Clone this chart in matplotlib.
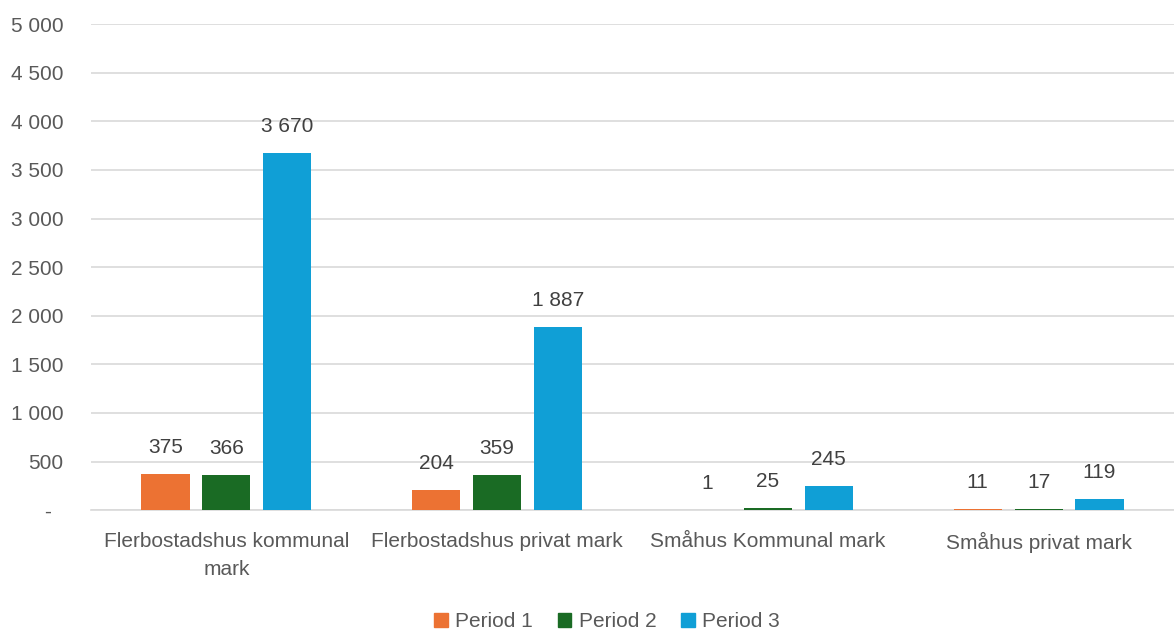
import matplotlib.pyplot as plt
import numpy as np
from matplotlib.patches import Patch

plt.rcParams["font.family"] = ["Liberation Sans", "DejaVu Sans"]

categories = ["Flerbostadshus kommunal\nmark", "Flerbostadshus privat mark",
              "Småhus Kommunal mark", "Småhus privat mark"]
series = ["Period 1", "Period 2", "Period 3"]
period1 = [375, 204, 1, 11]
period2 = [366, 359, 25, 17]
period3 = [3670, 1887, 245, 119]
colors = ["#EC7233", "#1A6B24", "#109FD6"]
yticks = list(range(0, 5001, 500))


def fmt(v):
    return "-" if v == 0 else f"{v:,}".replace(",", " ")


fig = plt.figure(figsize=(11.74, 6.33), dpi=100)
ax = fig.add_axes([0.0775, 0.194, 0.9225, 0.768])

x = np.arange(len(categories))
width = 0.178
offset = 0.225
for i, (vals, col) in enumerate(zip([period1, period2, period3], colors)):
    xs = x + (i - 1) * offset
    ax.bar(xs, vals, width, color=col, zorder=3)
    for xi, v in zip(xs, vals):
        ax.annotate(fmt(v), (xi, v), xytext=(0, 19), textcoords="offset points",
                    ha="center", va="center", fontsize=15, color="#404040")

ax.set_xlim(-0.5, 3.5)
ax.set_ylim(0, 5000)
ax.set_yticks(yticks)
# zero shown as a dash, nudged left like an accounting format
ax.set_yticklabels([fmt(v) if v else "-  " for v in yticks])
ax.set_xticks(x)
ax.set_xticklabels(categories, linespacing=1.6, va="top")
ax.tick_params(axis="both", length=0, labelsize=15, colors="#595959")
ax.tick_params(axis="x", pad=16)
ax.tick_params(axis="y", pad=20)
ax.grid(axis="y", color="#D9D9D9", linewidth=1.2, zorder=0)
for s in ["top", "right", "left"]:
    ax.spines[s].set_visible(False)
ax.spines["bottom"].set_color("#D9D9D9")
ax.spines["bottom"].set_linewidth(1.2)

handles = [Patch(color=c, label=s) for c, s in zip(colors, series)]
fig.legend(handles=handles, loc="center", bbox_to_anchor=(0.517, 0.018), ncol=3,
           frameon=False, fontsize=15, handlelength=0.65, handleheight=0.65,
           handletextpad=0.35, columnspacing=1.2, labelcolor="#595959")

fig.savefig("out.png", dpi=100)
